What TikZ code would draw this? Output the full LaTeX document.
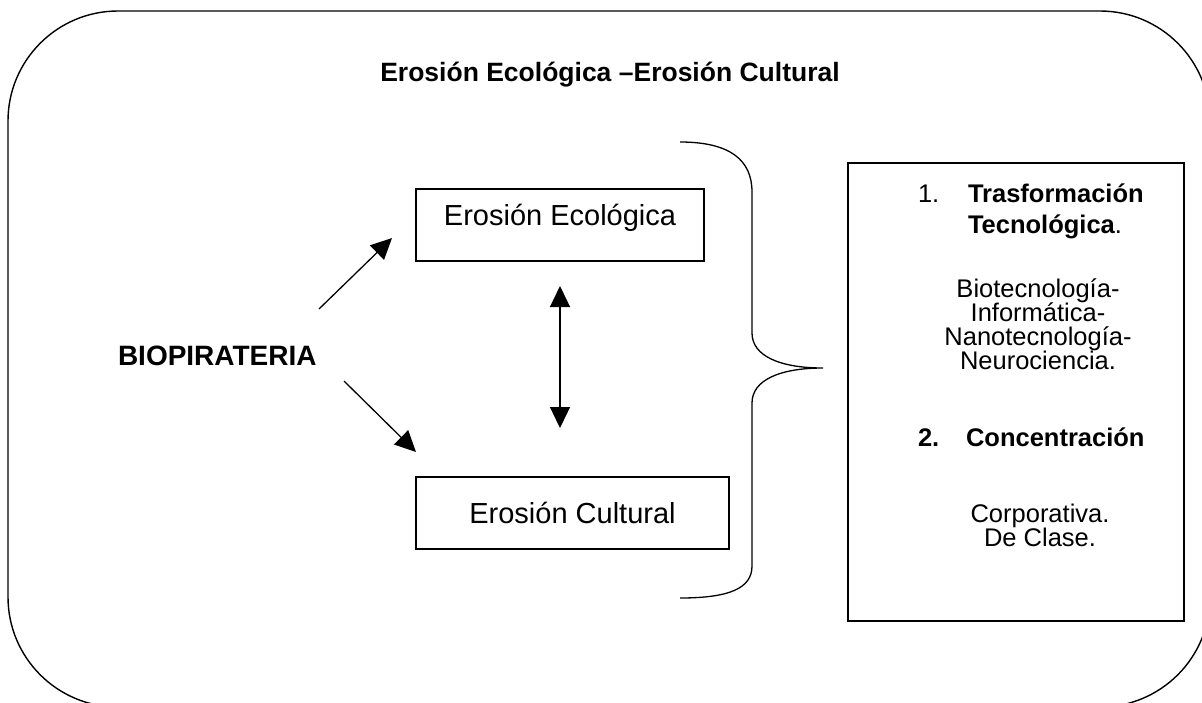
\documentclass[tikz,border=0pt]{standalone}
\usepackage{fontspec}
\setmainfont{Liberation Sans}
\usetikzlibrary{arrows.meta}
\begin{document}
\begin{tikzpicture}[x=1pt,y=-1pt,
  every node/.style={inner sep=0pt, outer sep=0pt},
  thick line/.style={line width=1.3pt},
  boxnode/.style={draw, line width=1.3pt, inner sep=0pt, font=\fontsize{29}{29}\selectfont},
  arr/.style={line width=1.3pt, -{Triangle[length=21pt,width=20pt]}},
  dblarr/.style={line width=1.3pt, {Triangle[length=21pt,width=20pt]}-{Triangle[length=21pt,width=20pt]}},
  titletext/.style={font=\bfseries\fontsize{26.5}{26.5}\selectfont},
  rtext/.style={font=\fontsize{25.5}{25.5}\selectfont},
  rbold/.style={font=\bfseries\fontsize{25.5}{25.5}\selectfont}]
\useasboundingbox (0,0) rectangle (1202,702);
% outer rounded frame (runs beyond the right and bottom edges)
\draw[line width=1.4pt, rounded corners=110pt] (8,11) rectangle (1210,707);
% title
\node[titletext, anchor=base] (title) at (610,81) {Erosión Ecológica –Erosión Cultural};
% left label
\node[titletext, font=\bfseries\fontsize{28}{28}\selectfont, anchor=base west] (bio) at (118,365) {BIOPIRATERIA};
% boxes
\node[boxnode, minimum width=288pt, text height=36pt, text depth=36pt] (eco) at (560,225) {Erosión Ecológica};
\node[boxnode, minimum width=313pt, text height=46pt, text depth=26pt] (cul) at (572.5,513) {Erosión Cultural};
% arrows
\coordinate (a1s) at (319,309); \coordinate (a1e) at (392,238);
\coordinate (a2s) at (344,381); \coordinate (a2e) at (416,452);
\coordinate (a3s) at (560,286); \coordinate (a3e) at (560,428);
\draw[arr] (a1s) -- (a1e);
\draw[arr] (a2s) -- (a2e);
\draw[dblarr] (a3s) -- (a3e);
% brace
\coordinate (brtop) at (680,142);
\coordinate (brtip) at (823,368);
\coordinate (brbot) at (680,598);
\draw[thick line] (brtop) .. controls (730,142) and (752,160) .. (752,192) -- (752,333)
  .. controls (752,356) and (780,368) .. (brtip)
  .. controls (780,368) and (752,380) .. (752,403) -- (752,566)
  .. controls (752,588) and (730,598) .. (brbot);
% right box
\node[draw, line width=1.3pt, minimum width=336pt, minimum height=458pt] (rbox) at (1016,392) {};
\node[rtext, anchor=base west] (n1) at (918,202) {1.};
\node[rbold, anchor=base west] (t1) at (968,202) {Trasformación};
\node[rtext, anchor=base west] (t2) at (968,233) {\textbf{Tecnológica}.};
\node[rtext, anchor=base] (l1) at (1038,297) {Biotecnología-};
\node[rtext, anchor=base] (l2) at (1038,321) {Informática-};
\node[rtext, anchor=base] (l3) at (1038,345) {Nanotecnología-};
\node[rtext, anchor=base] (l4) at (1038,369) {Neurociencia.};
\node[rbold, anchor=base west] (n2) at (918,446) {2.};
\node[rbold, anchor=base west] (t3) at (966,446) {Concentración};
\node[rtext, anchor=base] (l5) at (1040,522) {Corporativa.};
\node[rtext, anchor=base] (l6) at (1040,546) {De Clase.};
\end{tikzpicture}
\end{document}
